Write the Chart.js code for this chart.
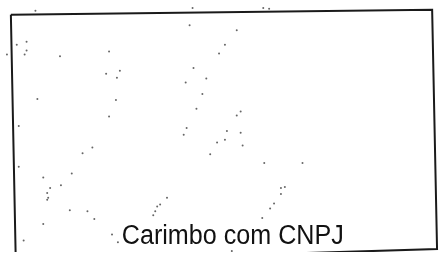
<!DOCTYPE html>
<html>
<head>
<meta charset="utf-8">
<script src="https://cdn.jsdelivr.net/npm/chart.js@4.4.1/dist/chart.umd.min.js"></script>
<style>
  html, body { margin: 0; padding: 0; background: #ffffff; }
  #chartCanvas { display: block; }
</style>
</head>
<body>
<canvas id="chartCanvas" width="444" height="256"></canvas>
<script>
// Stamp box outline (corners, in page units)
const frameX = [7, 436, 441, 12, 7];
const frameY = [11, 6, 253, 266, 11];

// Scanner speckles
const speckX = [13, 23, 21, 23, 57, 107, 104, 118, 115, 34, 114, 107, 15, 189, 192, 193, 206, 185, 202, 196, 219, 3, 32,
  264, 270, 237, 225, 237, 241,
  186, 183, 217, 210, 80, 90, 15, 40, 69, 47, 44, 45, 44, 58, 67, 85, 92, 40, 20, 110, 116, 166, 159, 156, 154, 152,
  227, 241, 225, 243, 265, 304, 282, 286, 282, 275, 271, 263, 232];
const speckY = [42, 39, 52, 48, 54, 49, 72, 69, 76, 98, 99, 116, 126, 22, 4, 66, 77, 81, 93, 108, 51, 52, 7,
  4, 5, 27, 42, 115, 111,
  128, 135, 143, 155, 154, 148, 168, 179, 175, 190, 195, 200, 202, 187, 213, 214, 222, 227, 244, 238, 246, 200, 207, 209, 214, 218,
  131, 133, 140, 146, 164, 164, 190, 189, 196, 206, 211, 221, 255];

const labelText = 'Carimbo com CNPJ';
const labelPos = { x: 233, y: 248 };
const labelWidth = 222;

function toPoints(xs, ys) {
  return xs.map((x, i) => ({ x: x, y: ys[i] }));
}

// draws the stamp caption at a data position
const captionPlugin = {
  id: 'caption',
  afterDatasetsDraw(chart) {
    const ctx = chart.ctx;
    const px = chart.scales.x.getPixelForValue(labelPos.x);
    const py = chart.scales.y.getPixelForValue(labelPos.y);
    ctx.save();
    ctx.font = '27px "Liberation Sans", Arial, sans-serif';
    ctx.fillStyle = '#111111';
    ctx.textAlign = 'center';
    ctx.textBaseline = 'alphabetic';
    ctx.fillText(labelText, px, py, labelWidth);
    ctx.restore();
  }
};

const ctx = document.getElementById('chartCanvas').getContext('2d');
new Chart(ctx, {
  type: 'scatter',
  data: {
    datasets: [
      {
        label: 'frame',
        data: toPoints(frameX, frameY),
        showLine: true,
        borderColor: '#1a1a1a',
        borderWidth: 2,
        pointRadius: 0,
        tension: 0,
        fill: false
      },
      {
        label: 'speckles',
        data: toPoints(speckX, speckY),
        pointRadius: 1,
        pointBorderWidth: 0,
        backgroundColor: '#666666'
      }
    ]
  },
  options: {
    responsive: false,
    animation: false,
    layout: { padding: 0 },
    scales: {
      x: { type: 'linear', min: 0, max: 444, display: false },
      y: { type: 'linear', min: 0, max: 256, reverse: true, display: false }
    },
    plugins: {
      legend: { display: false },
      tooltip: { enabled: false }
    }
  },
  plugins: [captionPlugin]
});
</script>
</body>
</html>
